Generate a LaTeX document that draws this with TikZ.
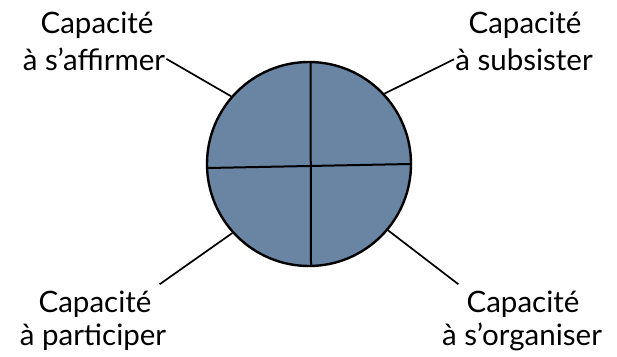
\documentclass[tikz,border=0pt]{standalone}
\usepackage{fontspec}
\setmainfont{Lato}
\definecolor{ardoise}{RGB}{106,132,163}
\tikzset{
  rotulo/.style={font=\fontsize{29.5}{34}\selectfont, inner sep=1pt},
  ligacao/.style={line width=1.7pt},
}
\begin{document}
\begin{tikzpicture}[x=1pt,y=-1pt]
        % 1. VARIÁVEIS (raio do círculo, em pixels da imagem)
        \def\R{102}
        \useasboundingbox (0,0) rectangle (617,356);

        % 2. CÍRCULO PRINCIPAL
        \node[circle, draw, line width=2.4pt, fill=ardoise, minimum size=204pt, inner sep=0pt] (roue) at (309,164) {};

        % ==========================================
        % 3. CRUZ (divisão em quatro partes)
        % ==========================================
        \draw[line width=2pt] (310.5,63) -- (311,265);
        \draw[line width=2pt] (208,168) -- (410,164);

        % ==========================================
        % 4. RÓTULOS
        % ==========================================
        \node[rotulo, anchor=base] (capA) at (97,33) {Capacité};
        \node[rotulo, anchor=base] (aff) at (94,70) {à s’affirmer};

        \node[rotulo, anchor=base] (capS) at (525,33) {Capacité};
        \node[rotulo, anchor=base] (sub) at (524,70) {à subsister};

        \node[rotulo, anchor=base] (capP) at (95,312) {Capacité};
        \node[rotulo, anchor=base] (part) at (93,345) {à participer};

        \node[rotulo, anchor=base] (capO) at (523,312) {Capacité};
        \node[rotulo, anchor=base] (org) at (522,345) {à s’organiser};

        % 5. LIGAÇÕES até o círculo
        \draw[ligacao] (aff.east) -- (roue.139);
        \draw[ligacao] (sub.west) -- (roue.43);
        \draw[ligacao] ([shift={(7,-5)}]capP.north east) -- (roue.222);
        \draw[ligacao] ([shift={(-7,-5)}]capO.north west) -- (roue.320);
    \end{tikzpicture}
\end{document}
